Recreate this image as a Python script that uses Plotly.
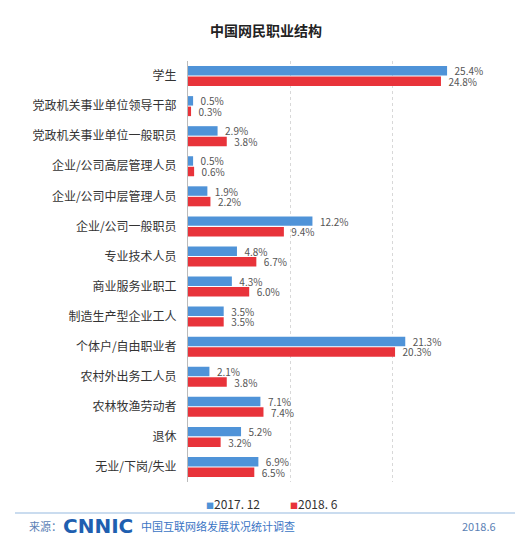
import plotly.graph_objects as go

categories = ["学生", "党政机关事业单位领导干部", "党政机关事业单位一般职员", "企业/公司高层管理人员",
              "企业/公司中层管理人员", "企业/公司一般职员", "专业技术人员", "商业服务业职工",
              "制造生产型企业工人", "个体户/自由职业者", "农村外出务工人员", "农林牧渔劳动者",
              "退休", "无业/下岗/失业"]
series_names = ["2017. 12", "2018. 6"]
values_2017_12 = [25.4, 0.5, 2.9, 0.5, 1.9, 12.2, 4.8, 4.3, 3.5, 21.3, 2.1, 7.1, 5.2, 6.9]
values_2018_6 = [24.8, 0.3, 3.8, 0.6, 2.2, 9.4, 6.7, 6.0, 3.5, 20.3, 3.8, 7.4, 3.2, 6.5]
x_ticks = [0, 10, 20, 30]
title_text = "中国网民职业结构"

font_family = "Noto Sans CJK SC, Noto Sans, sans-serif"
colors = ["#4f93d8", "#e8333a"]

# page body has an 8px margin, so the figure is offset by 8px inside the window
OFF = 8
W, H = 530 - 2 * OFF, 542 - OFF
ML, MT = 188 - OFF, 61 - OFF
MR = W - (494 - OFF)
MB = H - (482 - OFF)
PW, PH = W - ML - MR, H - MT - MB


def px(x):
    return (x - OFF - ML) / PW


def py(y):
    return (H - MB - (y - OFF)) / PH


fig = go.Figure()
for name, vals, col in zip(series_names, [values_2017_12, values_2018_6], colors):
    fig.add_trace(go.Bar(
        y=categories, x=vals, name=name, orientation="h",
        marker=dict(color=col, line=dict(width=0)),
        text=[f"\u00a0\u00a0{v:.1f}%" for v in vals], textposition="outside",
        constraintext="none",
        textfont=dict(size=10, color="#555555", family=font_family),
        cliponaxis=False, showlegend=False,
    ))

fig.update_layout(
    width=W, height=H,
    margin=dict(l=ML, r=MR, t=MT, b=MB, autoexpand=False),
    paper_bgcolor="white", plot_bgcolor="white",
    barmode="group", bargap=0.3, bargroupgap=0.1,
    font=dict(family=font_family, color="#333333"),
    xaxis=dict(range=[0, 30], tickvals=x_ticks, showticklabels=False, showgrid=True,
               gridcolor="#d8d8d8", griddash="dot", gridwidth=1, zeroline=False,
               showline=False, fixedrange=True),
    yaxis=dict(autorange="reversed", showline=True, linecolor="#bbbbbb", linewidth=1,
               ticks="", ticklabelstandoff=8, automargin=False,
               tickfont=dict(size=12, color="#333333", family=font_family)),
    showlegend=False,
)

# title
fig.add_annotation(text=f"<b>{title_text}</b>", xref="paper", yref="paper", x=px(266), y=py(30),
                   xanchor="center", yanchor="middle", showarrow=False,
                   font=dict(size=14, color="#222222", family=font_family))

# legend drawn as text items with small square markers
legend_x = [204, 288]
for name, col, lx in zip(series_names, colors, legend_x):
    fig.add_annotation(
        text=f"<span style='font-size:8px;color:{col}'>■</span>{name}",
        xref="paper", yref="paper", x=px(lx), y=py(503), xanchor="left", yanchor="middle",
        showarrow=False, font=dict(size=12, color="#333333", family=font_family))

# footer line
fig.add_shape(type="line", xref="paper", yref="paper",
              x0=px(15), x1=px(515), y0=py(513), y1=py(513),
              line=dict(color="#b8d0ea", width=1.5))
fig.add_annotation(text="来源：", xref="paper", yref="paper", x=px(27), y=py(526),
                   xanchor="left", yanchor="middle", showarrow=False,
                   font=dict(size=11, color="#5b7fb5", family=font_family))
fig.add_annotation(text="<b>CNNIC</b>", xref="paper", yref="paper", x=px(61), y=py(526),
                   xanchor="left", yanchor="middle", showarrow=False,
                   font=dict(size=20, color="#1f5fb0", family="Arial Black, DejaVu Sans"))
fig.add_annotation(text="中国互联网络发展状况统计调查", xref="paper", yref="paper", x=px(139), y=py(526),
                   xanchor="left", yanchor="middle", showarrow=False,
                   font=dict(size=11, color="#3a74c4", family=font_family))
fig.add_annotation(text="2018.6", xref="paper", yref="paper", x=px(498), y=py(526),
                   xanchor="right", yanchor="middle", showarrow=False,
                   font=dict(size=11, color="#5b7fb5", family=font_family))

fig.write_html("out.html")
